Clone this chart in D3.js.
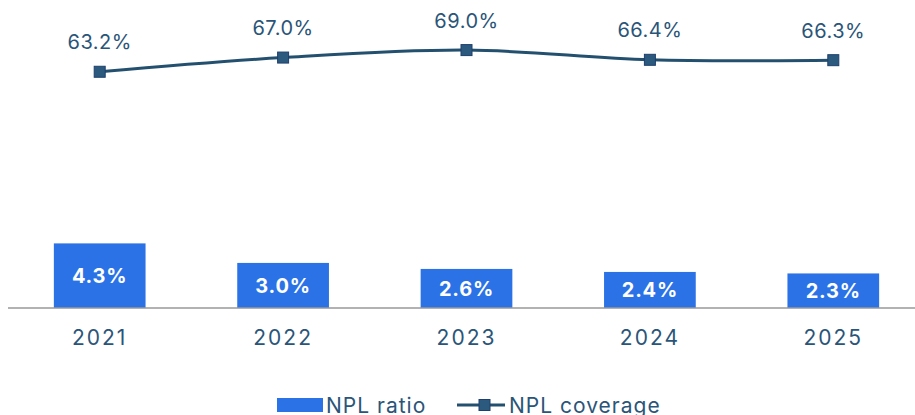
<!DOCTYPE html>
<html>
<head>
<meta charset="utf-8">
<script src="https://cdn.jsdelivr.net/npm/d3@7"></script>
<style>
body { margin:0; background:#fff; }
text { font-family: Inter, Roboto, "Noto Sans", sans-serif; }
</style>
</head>
<body>
<script>
var years = ["2021","2022","2023","2024","2025"];
var nplRatio = [4.3, 3.0, 2.6, 2.4, 2.3];
var nplCoverage = [63.2, 67.0, 69.0, 66.4, 66.3];

var width = 915, height = 415;
var baseY = 308;
var textColor = "#2a5578";
var barColor = "#2a72e6";
var lineColor = "#24506f";

var svg = d3.select("body").append("svg").attr("width",width).attr("height",height);

var x = d3.scaleBand().domain(years).range([8, 925]).paddingInner(0.5).paddingOuter(0.25);
var yBar = d3.scaleLinear().domain([0, 20.5]).range([baseY, 0]);
var yLine = d3.scaleLinear().domain([0, 82.4]).range([baseY, 0]);

// bars
var bars = svg.selectAll(".bar").data(years).enter().append("g").attr("class","bar");
bars.append("rect")
	.attr("x",function(d){ return x(d); })
	.attr("y",function(d,i){ return yBar(nplRatio[i]); })
	.attr("width",x.bandwidth())
	.attr("height",function(d,i){ return baseY - yBar(nplRatio[i]); })
	.attr("fill",barColor);
bars.append("text")
	.attr("x",function(d){ return x(d)+x.bandwidth()/2; })
	.attr("y",function(d,i){ return (yBar(nplRatio[i])+baseY)/2 + 2; })
	.attr("text-anchor","middle")
	.attr("dominant-baseline","middle")
	.attr("fill","#fff")
	.attr("font-weight","bold")
	.attr("font-size",20)
	.attr("letter-spacing",0.8)
	.text(function(d,i){ return nplRatio[i].toFixed(1)+"%"; });

// x axis
var xAxis = svg.append("g").attr("transform","translate(0,"+baseY+")")
	.call(d3.axisBottom(x).tickSize(0).tickPadding(22));
xAxis.select(".domain").attr("stroke","#999").attr("stroke-width",1.5).attr("d","M8,0H915");
xAxis.selectAll("text")
	.attr("fill",textColor)
	.attr("font-size",21)
	.attr("letter-spacing",2)
	.attr("font-family","Inter, Roboto, sans-serif");

// line
var pts = years.map(function(d,i){ return [x(d)+x.bandwidth()/2, yLine(nplCoverage[i])]; });
svg.append("path")
	.attr("d", d3.line().curve(d3.curveCatmullRom.alpha(0.5))(pts))
	.attr("fill","none")
	.attr("stroke",lineColor)
	.attr("stroke-width",3);
svg.selectAll(".mk").data(pts).enter().append("rect")
	.attr("x",function(d){ return d[0]-5.5; })
	.attr("y",function(d){ return d[1]-5.5; })
	.attr("width",11).attr("height",11)
	.attr("fill","#2b5a7e").attr("stroke","#1f3f6d").attr("stroke-width",1);
svg.selectAll(".cl").data(pts).enter().append("text")
	.attr("x",function(d){ return d[0]; })
	.attr("y",function(d){ return d[1]-28; })
	.attr("text-anchor","middle")
	.attr("dominant-baseline","middle")
	.attr("fill",textColor)
	.attr("font-size",20)
	.attr("letter-spacing",0.5)
	.text(function(d,i){ return nplCoverage[i].toFixed(1)+"%"; });

// legend
var lg = svg.append("g");
lg.append("rect").attr("x",277).attr("y",398).attr("width",46).attr("height",14).attr("fill",barColor);
lg.append("text").attr("x",326).attr("y",413).attr("fill",textColor).attr("font-size",21).attr("letter-spacing",1).text("NPL ratio");
lg.append("line").attr("x1",457).attr("x2",505).attr("y1",405).attr("y2",405).attr("stroke",lineColor).attr("stroke-width",3);
lg.append("rect").attr("x",479).attr("y",399.5).attr("width",11).attr("height",11)
	.attr("fill","#2b5a7e").attr("stroke","#1f3f6d").attr("stroke-width",1);
lg.append("text").attr("x",509).attr("y",413).attr("fill",textColor).attr("font-size",21).attr("letter-spacing",1).text("NPL coverage");
</script>
</body>
</html>
